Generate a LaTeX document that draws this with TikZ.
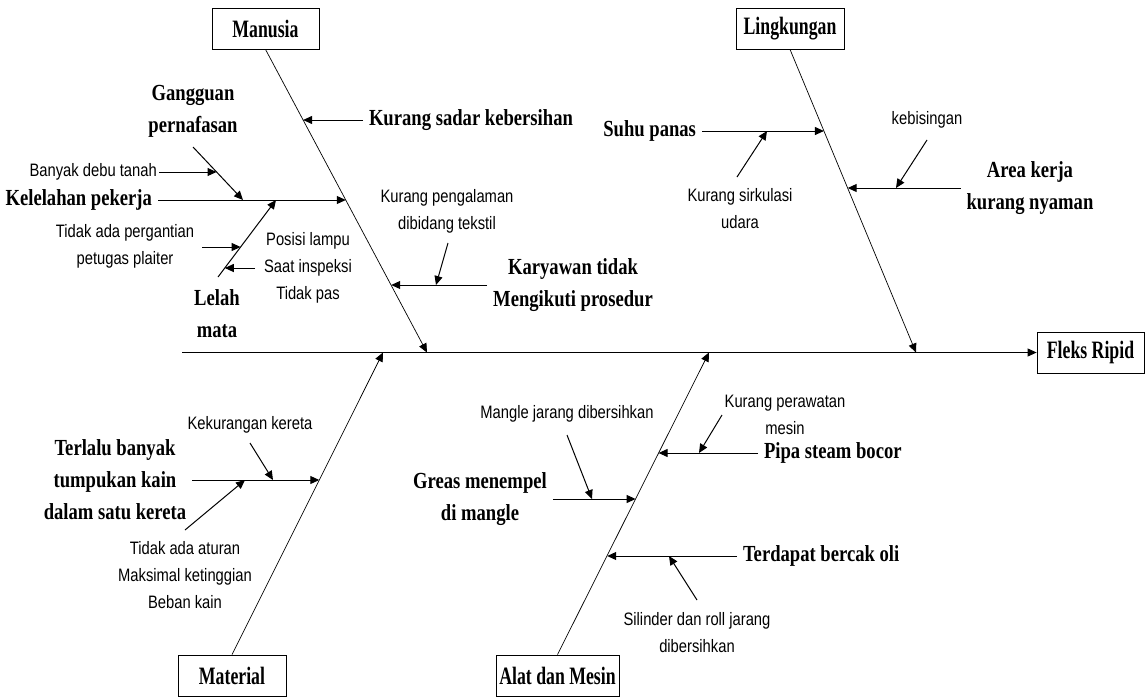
\documentclass[tikz,border=0pt]{standalone}
\usepackage{fontspec}
\usetikzlibrary{arrows.meta}
\newfontfamily\headfont{Liberation Serif}[FakeStretch=0.81]
\newfontfamily\boxfont{Liberation Serif}[FakeStretch=0.71]
\newfontfamily\notefont{Liberation Sans}[FakeStretch=0.82]

\tikzset{
  catbox/.style={draw, line width=0.8pt, minimum height=41pt, inner sep=0pt,
    font=\boxfont\bfseries\fontsize{25}{30}\selectfont},
  cause/.style={align=center, inner sep=3pt, outer sep=3pt,
    font=\headfont\bfseries\fontsize{23}{32}\selectfont},
  note/.style={align=center, inner sep=2pt,
    font=\notefont\fontsize{18}{27}\selectfont},
  tip/.style={-{Triangle[length=9pt,width=8pt]}},
  bone/.style={tip, line width=0.7pt},
  arr/.style={tip, line width=1pt}
}

\begin{document}
\begin{tikzpicture}[x=1pt, y=-1pt]
\useasboundingbox (0,0) rectangle (1146,697);

% category boxes and the effect
\node[catbox, minimum width=107pt] (man)   at (265.5,28.5)  {Manusia};
\node[catbox, minimum width=108pt] (ling)  at (790,28.5)    {Lingkungan};
\node[catbox, minimum width=108pt] (mat)   at (232,675.5)   {Material};
\node[catbox, minimum width=123pt] (alat)  at (557.5,675.5) {Alat dan Mesin};
\node[catbox, minimum width=107pt] (fleks) at (1090.5,352.5) {Fleks Ripid};

% spine
\coordinate (spineL) at (182,352.5);
\draw[arr] (spineL) -- (fleks.west);

% main bones
\coordinate (manE)  at (427,352.5);
\coordinate (lingE) at (916,352.5);
\coordinate (matE)  at (383,352.5);
\coordinate (alatE) at (709,352.5);
\draw[bone] (man.south)  -- (manE);
\draw[bone] (ling.south) -- (lingE);
\draw[bone] (mat.north)  -- (matE);
\draw[bone] (alat.north) -- (alatE);

% ---------------- Manusia ----------------
\node[cause, anchor=west] (sadar) at (363,120) {Kurang sadar kebersihan};
\coordinate (sadarH) at (303.1,120);
\draw[arr] (sadar.west) -- (sadarH);

\node[cause, anchor=east] (lelahP) at (158,200) {Kelelahan pekerja};
\coordinate (lelahPH) at (345.8,200);
\draw[arr] (lelahP.east) -- (lelahPH);

\node[cause] (gangg) at (193,111) {Gangguan\\pernafasan};
\coordinate (ganggT) at (193,147);
\coordinate (ganggH) at (243,200);
\draw[arr] (ganggT) -- (ganggH);

\node[note, anchor=east] (debu) at (159,172) {Banyak debu tanah};
\coordinate (debuH) at (216.5,172);
\draw[arr] (debu.east) -- (debuH);

\node[cause] (mata) at (217,314) {Lelah\\mata};
\coordinate (mataT) at (218,277);
\coordinate (mataH) at (276,200);
\draw[arr] (mataT) -- (mataH);

\node[note] (ganti) at (125,246) {Tidak ada pergantian\\petugas plaiter};
\coordinate (gantiT) at (202,247);
\coordinate (gantiH) at (240.6,247);
\draw[arr] (gantiT) -- (gantiH);

\node[note] (lampu) at (308,268) {Posisi lampu\\Saat inspeksi\\Tidak pas};
\coordinate (lampuT) at (255,268);
\coordinate (lampuH) at (224.8,268);
\draw[arr] (lampuT) -- (lampuH);

\node[cause] (prosed) at (573,285) {Karyawan tidak\\Mengikuti prosedur};
\coordinate (prosedH) at (391.2,285);
\draw[arr] (prosed.west) -- (prosedH);

\node[note] (pengal) at (447,211.5) {Kurang pengalaman\\dibidang tekstil};
\coordinate (pengalT) at (448,243);
\coordinate (pengalH) at (436,285);
\draw[arr] (pengalT) -- (pengalH);

% ---------------- Lingkungan ----------------
\node[cause, anchor=east] (suhu) at (702,131) {Suhu panas};
\coordinate (suhuH) at (823.9,131);
\draw[arr] (suhu.east) -- (suhuH);

\node[note] (sirk) at (740,208.5) {Kurang sirkulasi\\udara};
\coordinate (sirkT) at (737,177);
\coordinate (sirkH) at (767,131);
\draw[arr] (sirkT) -- (sirkH);

\node[cause] (area) at (1030,188) {Area kerja\\kurang nyaman};
\coordinate (areaH) at (847.7,188);
\draw[arr] (area.west) -- (areaH);

\node[note] (bising) at (927,120) {kebisingan};
\coordinate (bisingT) at (927,140);
\coordinate (bisingH) at (896,188);
\draw[arr] (bisingT) -- (bisingH);

% ---------------- Material ----------------
\node[cause] (tumpuk) at (115,480) {Terlalu banyak\\tumpukan kain\\dalam satu kereta};
\coordinate (tumpukH) at (319.3,480);
\draw[arr] (tumpuk.east) -- (tumpukH);

\node[note] (kereta) at (250,425) {Kekurangan kereta};
\coordinate (keretaT) at (250,443);
\coordinate (keretaH) at (273,480);
\draw[arr] (keretaT) -- (keretaH);

\node[note] (aturan) at (185,575) {Tidak ada aturan\\Maksimal ketinggian\\Beban kain};
\coordinate (aturanT) at (185,530);
\coordinate (aturanH) at (245,480);
\draw[arr] (aturanT) -- (aturanH);

% ---------------- Alat dan Mesin ----------------
\node[cause, anchor=west] (pipa) at (758,453) {Pipa steam bocor};
\coordinate (pipaH) at (658.6,453);
\draw[arr] (pipa.west) -- (pipaH);

\node[note] (rawat) at (785,415) {Kurang perawatan\\mesin};
\coordinate (rawatT) at (722,415);
\coordinate (rawatH) at (699,453);
\draw[arr] (rawatT) -- (rawatH);

\node[cause] (greas) at (480,499) {Greas menempel\\di mangle};
\coordinate (greasH) at (635.6,499);
\draw[arr] (greas.east) -- (greasH);

\node[note] (mangle) at (567,414) {Mangle jarang dibersihkan};
\coordinate (mangleT) at (567,435);
\coordinate (mangleH) at (592,499);
\draw[arr] (mangleT) -- (mangleH);

\node[cause, anchor=west] (oli) at (737,556) {Terdapat bercak oli};
\coordinate (oliH) at (607.2,556);
\draw[arr] (oli.west) -- (oliH);

\node[note] (roll) at (697,632.5) {Silinder dan roll jarang\\dibersihkan};
\coordinate (rollT) at (697,600);
\coordinate (rollH) at (669,556);
\draw[arr] (rollT) -- (rollH);
\end{tikzpicture}
\end{document}
